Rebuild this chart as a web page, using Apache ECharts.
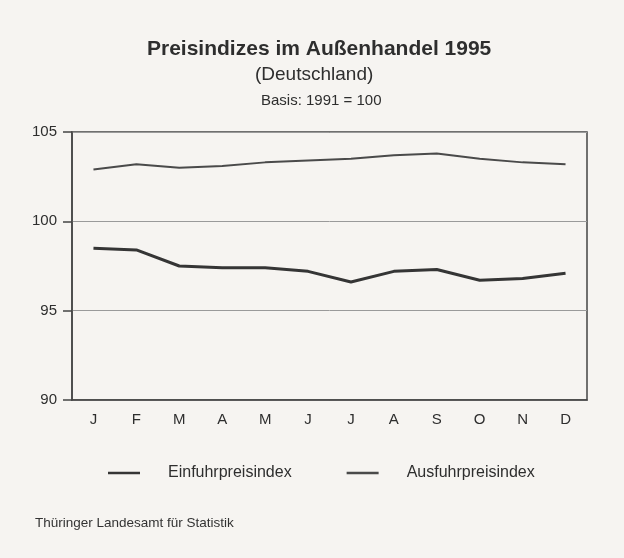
<!DOCTYPE html>
<html>
<head>
<meta charset="utf-8">
<script src="https://cdn.jsdelivr.net/npm/echarts@6/dist/echarts.min.js"></script>
<style>
html,body{margin:0;padding:0;background:#f6f4f1;}
#c{width:624px;height:558px;}
</style>
</head>
<body>
<div id="c"></div>
<script>
var months = ['J','F','M','A','M','J','J','A','S','O','N','D'];
var einfuhr = [98.5, 98.4, 97.5, 97.4, 97.4, 97.2, 96.6, 97.2, 97.3, 96.7, 96.8, 97.1];
var ausfuhr = [102.9, 103.2, 103.0, 103.1, 103.3, 103.4, 103.5, 103.7, 103.8, 103.5, 103.3, 103.2];
var yTicks = [90, 95, 100, 105];
var seriesNames = ['Einfuhrpreisindex', 'Ausfuhrpreisindex'];

var FONT = '"Liberation Sans", Arial, sans-serif';
var chart = echarts.init(document.getElementById('c'), null, {renderer: 'canvas'});
chart.setOption({
  backgroundColor: '#f6f4f1',
  animation: false,
  title: [
    {text: 'Preisindizes im Außenhandel 1995', left: 147, top: 39, padding: 0,
     textStyle: {fontFamily: FONT, fontSize: 21, fontWeight: 'bold', color: '#2e2e2e'}},
    {text: '(Deutschland)', left: 255, top: 65, padding: 0,
     textStyle: {fontFamily: FONT, fontSize: 19, fontWeight: 'normal', color: '#2e2e2e'}},
    {text: 'Basis: 1991 = 100', left: 261, top: 93, padding: 0,
     textStyle: {fontFamily: FONT, fontSize: 15, fontWeight: 'normal', color: '#2e2e2e'}},
    {text: 'Thüringer Landesamt für Statistik', left: 35, top: 516, padding: 0,
     textStyle: {fontFamily: FONT, fontSize: 13.5, fontWeight: 'normal', color: '#333'}}
  ],
  grid: {left: 72, right: 37, top: 132, bottom: 158, show: true,
         borderColor: '#444', borderWidth: 1.5, backgroundColor: 'transparent'},
  legend: {
    left: 108, top: 465, padding: 0, icon: 'rect', itemWidth: 32, itemHeight: 2.5, itemGap: 55,
    data: seriesNames,
    textStyle: {fontFamily: FONT, fontSize: 16, color: '#2e2e2e', padding: [0,0,0,23]}
  },
  xAxis: {
    type: 'category', data: months, boundaryGap: true,
    axisLine: {lineStyle: {color: '#444', width: 1.5}},
    axisTick: {length: 7, lineStyle: {color: '#444', width: 1.5}},
    axisLabel: {fontFamily: FONT, fontSize: 15, color: '#2e2e2e', margin: 12},
    splitLine: {show: false}
  },
  yAxis: {
    type: 'value', min: yTicks[0], max: yTicks[yTicks.length-1], interval: 5,
    axisLine: {show: true, lineStyle: {color: '#444', width: 1.5}},
    axisTick: {show: true, length: 9, lineStyle: {color: '#444', width: 1.5}},
    axisLabel: {fontFamily: FONT, fontSize: 15, color: '#2e2e2e', margin: 15},
    splitLine: {show: true, lineStyle: {color: '#9a9a9a', width: 1}}
  },
  series: [
    {name: seriesNames[0], type: 'line', data: einfuhr, symbol: 'none',
     lineStyle: {color: '#353535', width: 3}, itemStyle: {color: '#353535'}},
    {name: seriesNames[1], type: 'line', data: ausfuhr, symbol: 'none',
     lineStyle: {color: '#4a4a4a', width: 2}, itemStyle: {color: '#4a4a4a'}}
  ]
});
</script>
</body>
</html>
